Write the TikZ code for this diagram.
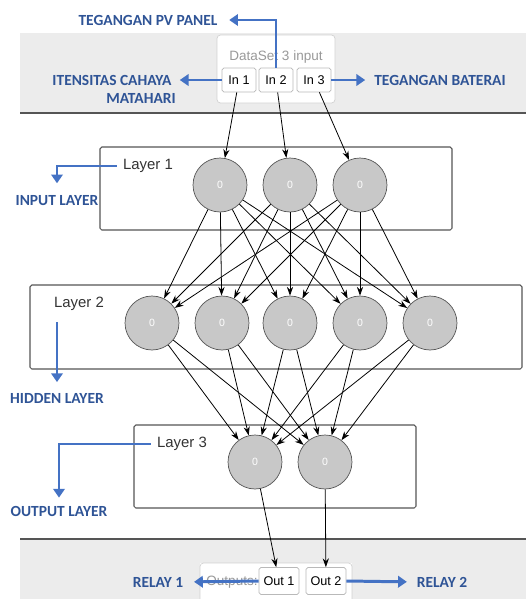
\documentclass[tikz,border=0pt]{standalone}
\usepackage{fontspec}
\setmainfont{Liberation Sans}
\newfontfamily\labelfont{Carlito}
\usetikzlibrary{arrows.meta,positioning,calc}
\definecolor{panelgray}{RGB}{236,236,236}
\definecolor{neurongray}{RGB}{200,200,200}
\definecolor{edgegray}{RGB}{85,85,85}
\definecolor{calloutblue}{RGB}{68,114,196}
\definecolor{labelblue}{RGB}{47,84,150}

\tikzset{
    neuron/.style={circle,draw=edgegray,fill=neurongray,minimum size=1.08cm,inner sep=0pt,
        font=\fontsize{6}{7}\selectfont,text=white},
    layerbox/.style={draw=edgegray,rounded corners=1pt,line width=0.6pt},
    portbox/.style={draw=gray!55,fill=white,rounded corners=1pt,inner sep=1pt,
        font=\fontsize{7.2}{8}\selectfont},
    link/.style={-{Stealth[length=5pt,width=3.5pt]},line width=0.45pt},
    callout/.style={-{Triangle[length=5pt,width=6.5pt]},line width=1.7pt,calloutblue},
    tag/.style={font=\labelfont\bfseries\fontsize{8.8}{10}\selectfont,text=labelblue,inner sep=0pt},
    laytext/.style={font=\fontsize{8.5}{10}\selectfont,text=black!80},
}

\begin{document}
\begin{tikzpicture}[x=0.02cm,y=-0.02cm]
    \useasboundingbox (0,0) rectangle (526,599);

    % panels top and bottom
    \fill[panelgray] (20,33) rectangle (526,113);
    \fill[panelgray] (20,539) rectangle (526,599);
    \draw[edgegray,line width=0.8pt] (20,113) -- (526,113);
    \draw[edgegray,line width=0.8pt] (20,539) -- (526,539);

    % data set block
    \draw[gray!35,fill=white,rounded corners=2pt] (217,35) rectangle (335,103);
    \node[font=\fontsize{7.7}{9}\selectfont,text=gray!80] (dsname) at (276,57) {DataSet 3 input};
    \foreach \x [count=\i] in {239,276,314} {
        \node[portbox,minimum width=0.68cm,minimum height=0.48cm] (in\i) at (\x,80) {In \i};
    }

    % layers
    \draw[layerbox] (100,147) rectangle (452,230);
    \node[laytext] (lay1) at (148,166) {Layer 1};
    \foreach \x [count=\i] in {220,290,360} {
        \node[neuron] (a\i) at (\x,185) {0};
    }

    \draw[layerbox] (30,285) rectangle (522,369);
    \node[laytext] (lay2) at (79,304) {Layer 2};
    \foreach \x [count=\i] in {152,222,290,360,430} {
        \node[neuron] (b\i) at (\x,323) {0};
    }

    \draw[layerbox] (134,425) rectangle (416,508);
    \node[laytext] (lay3) at (182,444) {Layer 3};
    \foreach \x [count=\i] in {255,325} {
        \node[neuron] (c\i) at (\x,462) {0};
    }

    % outputs block
    \fill[white] (200,563) rectangle (352,599);
    \draw[gray!35,rounded corners=2pt] (200,600) |- (352,563) -- (352,600);
    \node[font=\fontsize{7.7}{9}\selectfont,text=gray!80] (outname) at (232,582) {Outputs:};
    \foreach \x [count=\i] in {279,326} {
        \node[portbox,minimum width=0.8cm,minimum height=0.54cm] (out\i) at (\x,581) {Out \i};
    }

    % connections
    \foreach \i in {1,2,3} {
        \draw[link] (in\i) -- (a\i);
    }
    \foreach \i in {1,2,3} {
        \foreach \j in {1,...,5} {
            \draw[link] (a\i) -- (b\j);
        }
    }
    \foreach \j in {1,...,5} {
        \foreach \k in {1,2} {
            \draw[link] (b\j) -- (c\k);
        }
    }
    \foreach \k in {1,2} {
        \draw[link] (c\k) -- (out\k);
    }

    % blue labels
    \node[tag] (pvlbl) at (148,20) {TEGANGAN PV PANEL};
    \node[tag] (itens) at (112,80) {ITENSITAS CAHAYA};
    \node[tag] (matahari) at (141,98) {MATAHARI};
    \node[tag] (batlbl) at (440,80) {TEGANGAN BATERAI};
    \node[tag] (inlbl) at (57,201) {INPUT LAYER};
    \node[tag] (hidlbl) at (57,398) {HIDDEN LAYER};
    \node[tag] (outlbl) at (59,511) {OUTPUT LAYER};
    \node[tag] (relay1) at (158,582) {RELAY 1};
    \node[tag] (relay2) at (442,582) {RELAY 2};

    \draw[callout,shorten >=6.5pt] (in2.north) |- (pvlbl.east);
    \draw[callout,shorten >=4.5pt] (in1.west) -- (itens.east);
    \draw[callout,shorten >=5pt] (in3.east) -- (batlbl.west);
    \draw[callout,shorten >=7pt] (lay1.west) -| (inlbl.north);
    \draw[callout,shorten <=3pt,shorten >=6pt] (hidlbl.north |- lay2.south) -- (hidlbl.north);
    \draw[callout,shorten >=4.5pt] (lay3.west) -| (outlbl.north);
    \draw[callout,shorten >=6pt] (out1.west) -- (relay1.east);
    \draw[callout,shorten >=5.5pt] (out2.east) -- (relay2.west);
\end{tikzpicture}
\end{document}
